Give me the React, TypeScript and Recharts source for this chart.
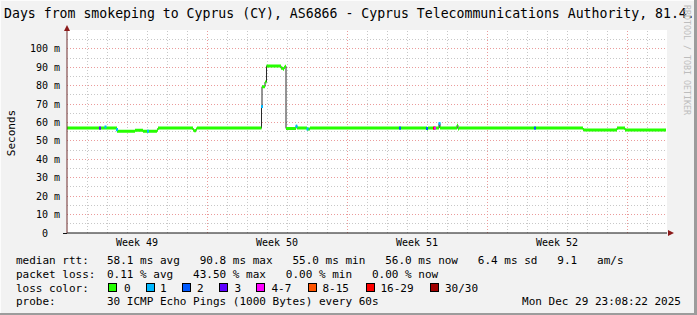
import React from 'react';
import { ComposedChart, Line, Scatter, XAxis, YAxis, ReferenceLine, CartesianGrid } from 'recharts';

// ---- data ----
const medianDays = [0, 2.5, 3.4, 3.8, 4.5, 4.55, 6.3, 6.35, 6.45, 6.5, 9.725, 9.75, 9.9, 9.975, 10.7, 10.8, 10.85, 10.9, 10.95, 11.45, 11.5, 12.0, 12.15, 18.0, 18.05, 18.6, 18.65, 19.5, 19.55, 19.6, 25.8, 25.85, 27.5, 27.9, 29.95];
const medianMs = [57.0, 55.3, 55.8, 55.3, 56.0, 57.0, 56.0, 55.5, 56.5, 57.0, 68.7, 79.5, 82.0, 90.8, 89.5, 89.0, 90.0, 90.6, 56.8, 58.0, 57.0, 56.5, 57.0, 56.5, 57.0, 59.5, 57.0, 58.5, 56.5, 57.0, 56.3, 56.0, 57.0, 56.0, 56.0];

const lossDays = [1.65, 1.925, 2.5, 4.05, 9.75, 11.475, 12.025, 16.65, 18.0, 18.35, 18.4, 18.625, 23.4];
const lossMs = [57.0, 57.6, 56.2, 55.3, 68.7, 58.0, 56.5, 57.0, 56.8, 57.0, 57.0, 59.5, 57.0];
const lossLevel = [3, 1, 1, 1, 1, 1, 1, 2, 2, 6, 4, 1, 2];

const lossLabels = ['0', '1', '2', '3', '4-7', '8-15', '16-29', '30/30'];
const lossColors = ['#26ff00', '#00b8ff', '#0059ff', '#5e00ff', '#ff00ff', '#ff5500', '#ff0000', '#a00000'];

const yTicks = [0, 10, 20, 30, 40, 50, 60, 70, 80, 90, 100];
const yTickLabels = ['0  ', '10 m', '20 m', '30 m', '40 m', '50 m', '60 m', '70 m', '80 m', '90 m', '100 m'];
const yMinorGrid = [5, 15, 25, 35, 45, 55, 65, 75, 85, 95, 105];
const yMajorGrid = [10, 20, 30, 40, 50, 60, 70, 80, 90, 100];
const weekTicks = [3.5, 10.5, 17.5, 24.5];
const weekLabels = ['Week 49', 'Week 50', 'Week 51', 'Week 52'];
const dayGrid = [1, 2, 3, 4, 5, 6, 8, 9, 10, 11, 12, 13, 15, 16, 17, 18, 19, 20, 22, 23, 24, 25, 26, 27, 29];
const weekGrid = [7, 14, 21, 28];

const title = 'Days from smokeping to Cyprus (CY), AS6866 - Cyprus Telecommunications Authority, 81.4.';
const rttLabel = 'median rtt:';
const rttText = '58.1 ms avg   90.8 ms max   55.0 ms min   56.0 ms now   6.4 ms sd   9.1   am/s';
const lossLabel = 'packet loss:';
const lossText = '0.11 % avg   43.50 % max   0.00 % min   0.00 % now';
const colorLabel = 'loss color:';
const probeLabel = 'probe:';
const probeText = '30 ICMP Echo Pings (1000 Bytes) every 60s';
const dateText = 'Mon Dec 29 23:08:22 2025';
const watermark = 'RRDTOOL / TOBI OETIKER';

const MONO = '"DejaVu Sans Mono", monospace';
const PRE: React.CSSProperties = { whiteSpace: 'pre' };

const YTick = (props: any) => {
  const { x, y, payload } = props;
  const i = yTicks.indexOf(payload.value);
  return (
    <text x={x} y={y} dy={3.5} textAnchor="end" fontFamily={MONO} fontSize={10} fill="#000" xmlSpace="preserve" style={PRE}>
      {yTickLabels[i]}
    </text>
  );
};

const XTick = (props: any) => {
  const { x, y, payload } = props;
  const i = weekTicks.indexOf(payload.value);
  return (
    <text x={x} y={y} dy={12.5} textAnchor="middle" fontFamily={MONO} fontSize={10} fill="#000" xmlSpace="preserve" style={PRE}>
      {weekLabels[i]}
    </text>
  );
};

const LossMark = (props: any) => {
  const { cx, cy, payload } = props;
  return <rect x={cx - 1} y={cy - 1.5} width={2} height={3} fill={lossColors[payload.lvl]} />;
};

const T = (p: any) => <text {...p} xmlSpace="preserve" style={PRE} />;

export default function App() {
  const stepData = medianDays.map((d, i) => ({ d, v: medianMs[i] }));
  const greenData: any[] = [];
  for (let i = 0; i < medianDays.length - 1; i++) {
    greenData.push({ d: medianDays[i], v: medianMs[i] });
    greenData.push({ d: medianDays[i + 1], v: medianMs[i] });
    greenData.push({ d: medianDays[i + 1], v: null });
  }
  const lossData = lossDays.map((d, i) => ({ d, v: lossMs[i], lvl: lossLevel[i] }));

  const swatchX = [108, 146, 182, 219, 256, 308, 366, 430];
  const swatchLabelX = [124, 160, 197, 234.5, 271.5, 322.5, 380.5, 445];

  return (
    <div style={{ position: 'absolute', left: 0, top: 0, width: 697, height: 315, background: '#f2f2f2', overflow: 'hidden' }}>
      <ComposedChart width={697} height={315} margin={{ top: 30, right: 30, bottom: 52, left: 7 }} style={{ position: 'absolute', left: 0, top: 0 }}>
        <CartesianGrid fill="#ffffff" horizontal={false} vertical={false} stroke="none" />
        {yMinorGrid.map((v) => (
          <ReferenceLine key={'ym' + v} y={v} stroke="#c8c8c8" strokeDasharray="1 2" strokeWidth={1} shapeRendering="crispEdges" />
        ))}
        {dayGrid.map((v) => (
          <ReferenceLine key={'xm' + v} x={v} stroke="#c8c8c8" strokeDasharray="1 2" strokeWidth={1} shapeRendering="crispEdges" />
        ))}
        {yMajorGrid.map((v) => (
          <ReferenceLine key={'yM' + v} y={v} stroke="#eb9b9b" strokeDasharray="1 2" strokeWidth={1} shapeRendering="crispEdges" />
        ))}
        {weekGrid.map((v) => (
          <ReferenceLine key={'xM' + v} x={v} stroke="#eb9b9b" strokeDasharray="1 2" strokeWidth={1} shapeRendering="crispEdges" />
        ))}
        <XAxis
          type="number"
          dataKey="d"
          domain={[0, 30]}
          ticks={weekTicks}
          interval={0}
          allowDataOverflow
          height={30}
          tickSize={0}
          tickMargin={0}
          tickLine={false}
          axisLine={{ stroke: '#111', strokeWidth: 1 }}
          tick={<XTick />}
        />
        <YAxis
          type="number"
          domain={[0, 110.3]}
          ticks={yTicks}
          interval={0}
          allowDataOverflow
          width={60}
          tickSize={0}
          tickMargin={7}
          tickLine={false}
          axisLine={{ stroke: '#6e2c2c', strokeWidth: 1 }}
          tick={<YTick />}
        />
        <Line data={stepData} dataKey="v" type="stepAfter" stroke="#2a2a2a" strokeWidth={1} dot={false} isAnimationActive={false} />
        <Line data={greenData} dataKey="v" type="linear" stroke="#26ff00" strokeWidth={3} dot={false} connectNulls={false} isAnimationActive={false} />
        <Scatter data={lossData} dataKey="v" shape={<LossMark />} isAnimationActive={false} />
      </ComposedChart>
      <svg width={697} height={315} xmlSpace="preserve" style={{ position: 'absolute', left: 0, top: 0, pointerEvents: 'none' }}>
        <line x1={0} y1={0.5} x2={697} y2={0.5} stroke="#fcfcfc" strokeWidth={1} />
        <line x1={0.5} y1={0} x2={0.5} y2={315} stroke="#fcfcfc" strokeWidth={1} />
        <rect x={694} y={0} width={3} height={315} fill="#9c9c9c" />
        <rect x={0} y={313} width={697} height={2} fill="#9c9c9c" />
        <T x={4} y={17.5} fontFamily={MONO} fontSize={13.2} fill="#000">{title}</T>
        <text transform="translate(14.5,133) rotate(-90)" textAnchor="middle" fontFamily={MONO} fontSize={11} fill="#000">Seconds</text>
        <T transform="translate(684,5) rotate(90)" fontFamily={MONO} fontSize={8.3} fill="#bdbdbd">{watermark}</T>
        <line x1={63} y1={233.5} x2={67} y2={233.5} stroke="#111" strokeWidth={1} />
        <polygon points="64,31 70,31 67,25" fill="#8b1a1a" />
        <polygon points="668,230 668,236 674,233" fill="#8b1a1a" />
        <g fontFamily={MONO} fontSize={11} fill="#000">
          <T x={16} y={264}>{rttLabel}</T>
          <T x={107} y={264}>{rttText}</T>
          <T x={16} y={277.5}>{lossLabel}</T>
          <T x={107} y={277.5}>{lossText}</T>
          <T x={16} y={291.5}>{colorLabel}</T>
          {lossLabels.map((l, i) => (
            <g key={l}>
              <rect x={swatchX[i] + 0.5} y={283.5} width={8} height={8} fill={lossColors[i]} stroke="#000" strokeWidth={1} />
              <T x={swatchLabelX[i]} y={291.5}>{l}</T>
            </g>
          ))}
          <T x={16} y={305}>{probeLabel}</T>
          <T x={107} y={305}>{probeText}</T>
          <T x={681} y={305} textAnchor="end">{dateText}</T>
        </g>
      </svg>
    </div>
  );
}
